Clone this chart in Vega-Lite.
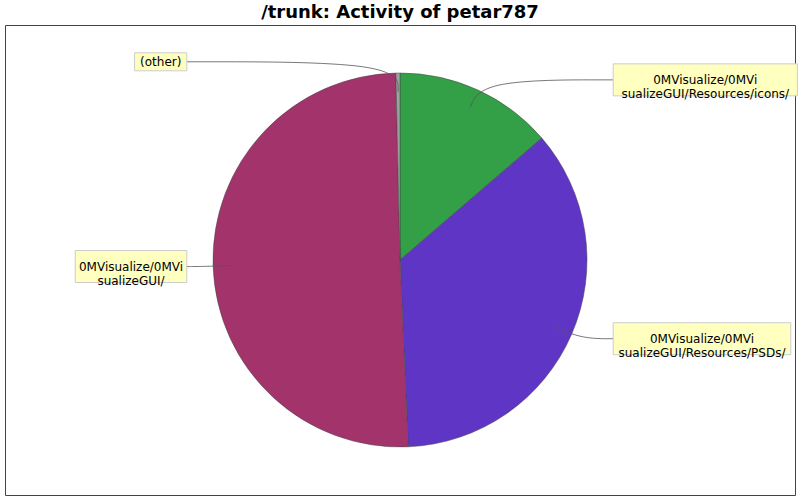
{
  "$schema": "https://vega.github.io/schema/vega-lite/v6.json",
  "width": 790,
  "height": 470,
  "autosize": {"type": "none"},
  "padding": {"left": 5, "top": 25, "right": 5, "bottom": 5},
  "background": "white",
  "config": {"view": {"stroke": "#444444", "strokeWidth": 1}, "font": "DejaVu Sans"},
  "title": {"text": "/trunk: Activity of petar787", "font": "DejaVu Sans", "fontSize": 18, "fontWeight": "bold", "color": "black", "anchor": "middle", "offset": 3},
  "data": {"values": [
    {"path": "0MVisualize/0MVisualizeGUI/Resources/icons/", "value": 13.7},
    {"path": "0MVisualize/0MVisualizeGUI/Resources/PSDs/", "value": 35.6},
    {"path": "0MVisualize/0MVisualizeGUI/", "value": 50.35},
    {"path": "(other)", "value": 0.35}
  ]},
  "transform": [
    {"window": [{"op": "row_number", "as": "rank"}]},
    {"window": [{"op": "sum", "field": "value", "as": "cum"}], "sort": [{"field": "rank"}], "frame": [null, 0]},
    {"joinaggregate": [{"op": "sum", "field": "value", "as": "total"}]},
    {"calculate": "2*PI*(datum.cum - datum.value/2)/datum.total", "as": "mid"},
    {"calculate": "sin(datum.mid) >= 0 ? 1 : -1", "as": "side"},
    {"calculate": "0.9*sin(datum.mid)", "as": "ax"},
    {"calculate": "0.9*cos(datum.mid)", "as": "ay"},
    {"calculate": "1.06*sin(datum.mid)", "as": "ex"},
    {"calculate": "1.06*cos(datum.mid)", "as": "ey"},
    {"calculate": "datum.side*1.14", "as": "lx"},
    {"calculate": "length(datum.path) > 16 ? 2 : 1", "as": "nl"},
    {"calculate": "max(min(length(datum.path),16), length(datum.path)-16)", "as": "ml"},
    {"calculate": "(datum.ml*6.6+6)/187", "as": "w"},
    {"calculate": "(datum.nl*14+4)/187", "as": "h"}
  ],
  "layer": [
    {
      "mark": {"type": "arc", "outerRadius": 187, "stroke": "#444444", "strokeWidth": 0.5},
      "encoding": {
        "theta": {"field": "value", "type": "quantitative", "stack": true},
        "order": {"field": "rank", "type": "quantitative"},
        "color": {"field": "path", "type": "nominal", "legend": null,
          "scale": {"domain": ["0MVisualize/0MVisualizeGUI/Resources/icons/", "0MVisualize/0MVisualizeGUI/Resources/PSDs/", "0MVisualize/0MVisualizeGUI/", "(other)"],
                    "range": ["#33a047", "#5f35c5", "#a3336b", "#a0a0a0"]}}
      }
    },
    {
      "transform": [
        {"calculate": "0", "as": "k0"},
        {"calculate": "1", "as": "k1"},
        {"calculate": "2", "as": "k2"},
        {"fold": ["k0", "k1", "k2"], "as": ["kk", "step"]},
        {"calculate": "datum.step == 0 ? datum.ax : datum.step == 1 ? datum.ex : datum.lx", "as": "px"},
        {"calculate": "datum.step == 0 ? datum.ay : datum.ey", "as": "py"}
      ],
      "mark": {"type": "line", "interpolate": "basis", "color": "#555555", "strokeWidth": 0.8},
      "encoding": {
        "x": {"field": "px", "type": "quantitative", "scale": {"domain": [-2.1123, 2.1123], "nice": false, "zero": false}, "axis": null},
        "y": {"field": "py", "type": "quantitative", "scale": {"domain": [-1.2567, 1.2567], "nice": false, "zero": false}, "axis": null},
        "detail": {"field": "path", "type": "nominal"},
        "order": {"field": "step", "type": "quantitative"}
      }
    },
    {
      "transform": [
        {"calculate": "datum.side > 0 ? datum.lx : datum.lx - datum.w", "as": "bx1"},
        {"calculate": "datum.side > 0 ? datum.lx + datum.w : datum.lx", "as": "bx2"},
        {"calculate": "datum.ey - datum.h/2", "as": "by1"},
        {"calculate": "datum.ey + datum.h/2", "as": "by2"}
      ],
      "mark": {"type": "rect", "fill": "#ffffc0", "stroke": "#cccccc", "strokeWidth": 1},
      "encoding": {
        "x": {"field": "bx1", "type": "quantitative", "scale": {"domain": [-2.1123, 2.1123], "nice": false, "zero": false}, "axis": null},
        "x2": {"field": "bx2"},
        "y": {"field": "by1", "type": "quantitative", "scale": {"domain": [-1.2567, 1.2567], "nice": false, "zero": false}, "axis": null},
        "y2": {"field": "by2"}
      }
    },
    {
      "transform": [
        {"calculate": "datum.side > 0 ? datum.lx + datum.w/2 : datum.lx - datum.w/2", "as": "tx"},
        {"calculate": "length(datum.path) > 16 ? substring(datum.path,0,16) + '\\n' + substring(datum.path,16) : datum.path", "as": "lbl"}
      ],
      "mark": {"type": "text", "align": "center", "baseline": "middle", "fontSize": 12, "lineHeight": 14, "font": "DejaVu Sans", "color": "black", "lineBreak": "\n"},
      "encoding": {
        "x": {"field": "tx", "type": "quantitative", "scale": {"domain": [-2.1123, 2.1123], "nice": false, "zero": false}, "axis": null},
        "y": {"field": "ey", "type": "quantitative", "scale": {"domain": [-1.2567, 1.2567], "nice": false, "zero": false}, "axis": null},
        "text": {"field": "lbl", "type": "nominal"}
      }
    }
  ]
}
